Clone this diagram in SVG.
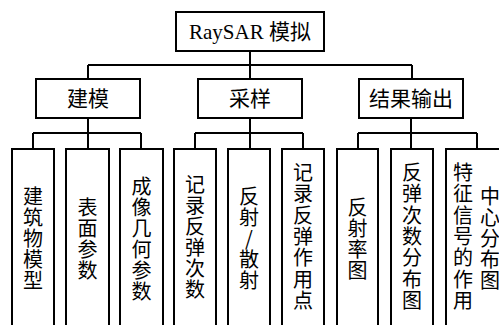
<svg xmlns="http://www.w3.org/2000/svg" width="499" height="325" viewBox="0 0 499 325">
<style>
.box{fill:#fff;stroke:#000;stroke-width:2}
.ln{fill:none;stroke:#000;stroke-width:2}
.t{font-family:"Liberation Serif","Noto Sans CJK SC",serif;font-size:21px;fill:#000;text-anchor:middle}
.v{font-family:"Noto Sans CJK SC",sans-serif;font-size:20px;fill:#000;text-anchor:middle}
</style>
<rect width="499" height="325" fill="#fff"/>
<g id="connectors">
<path class="ln" d="M250 51V79M88 65H412M88 65V79M412 65V79"/>
<path class="ln" d="M88 118V149M33 133H141M33 133V149M141 133V149"/>
<path class="ln" d="M250 118V149M195 133H303M195 133V149M303 133V149"/>
<path class="ln" d="M411 118V149M358 133H477M358 133V149M477 133V149"/>
</g>
<g id="root"><rect class="box" x="176" y="12" width="148" height="39"/><text class="t" x="250" y="39">RaySAR 模拟</text></g>
<g id="modeling"><rect class="box" x="36" y="79" width="104" height="39"/><text class="t" x="88" y="106">建模</text></g>
<g id="sampling"><rect class="box" x="198" y="79" width="104" height="39"/><text class="t" x="250" y="106">采样</text></g>
<g id="output"><rect class="box" x="359" y="79" width="104" height="39"/><text class="t" x="411" y="106">结果输出</text></g>
<g id="leaf1"><rect class="box" x="12" y="149" width="42" height="200"/>
<text class="v"><tspan x="33" y="204">建</tspan><tspan x="33" y="225">筑</tspan><tspan x="33" y="246">物</tspan><tspan x="33" y="267">模</tspan><tspan x="33" y="288">型</tspan></text></g>
<g id="leaf2"><rect class="box" x="66" y="149" width="43" height="200"/>
<text class="v"><tspan x="87.5" y="214.5">表</tspan><tspan x="87.5" y="235.5">面</tspan><tspan x="87.5" y="256.5">参</tspan><tspan x="87.5" y="277.5">数</tspan></text></g>
<g id="leaf3"><rect class="box" x="120" y="149" width="43" height="200"/>
<text class="v"><tspan x="141.5" y="193.5">成</tspan><tspan x="141.5" y="214.5">像</tspan><tspan x="141.5" y="235.5">几</tspan><tspan x="141.5" y="256.5">何</tspan><tspan x="141.5" y="277.5">参</tspan><tspan x="141.5" y="298.5">数</tspan></text></g>
<g id="leaf4"><rect class="box" x="174" y="149" width="42" height="200"/>
<text class="v"><tspan x="195" y="192">记</tspan><tspan x="195" y="213">录</tspan><tspan x="195" y="234">反</tspan><tspan x="195" y="255">弹</tspan><tspan x="195" y="276">次</tspan><tspan x="195" y="297">数</tspan></text></g>
<g id="leaf5"><rect class="box" x="228" y="149" width="42" height="200"/>
<text class="v"><tspan x="249" y="204">反</tspan><tspan x="249" y="225">射</tspan><tspan x="249" y="246">/</tspan><tspan x="249" y="267">散</tspan><tspan x="249" y="288">射</tspan></text></g>
<g id="leaf6"><rect class="box" x="282" y="149" width="42" height="200"/>
<text class="v"><tspan x="303" y="180">记</tspan><tspan x="303" y="201.3">录</tspan><tspan x="303" y="222.6">反</tspan><tspan x="303" y="243.9">弹</tspan><tspan x="303" y="265.2">作</tspan><tspan x="303" y="286.5">用</tspan><tspan x="303" y="307.8">点</tspan></text></g>
<g id="leaf7"><rect class="box" x="337" y="149" width="41" height="200"/>
<text class="v"><tspan x="357.5" y="214.5">反</tspan><tspan x="357.5" y="235.5">射</tspan><tspan x="357.5" y="256.5">率</tspan><tspan x="357.5" y="277.5">图</tspan></text></g>
<g id="leaf8"><rect class="box" x="391" y="149" width="42" height="200"/>
<text class="v"><tspan x="412" y="180">反</tspan><tspan x="412" y="201.3">弹</tspan><tspan x="412" y="222.6">次</tspan><tspan x="412" y="243.9">数</tspan><tspan x="412" y="265.2">分</tspan><tspan x="412" y="286.5">布</tspan><tspan x="412" y="307.8">图</tspan></text></g>
<g id="leaf9"><rect class="box" x="446" y="149" width="64" height="200"/>
<text class="v"><tspan x="463" y="180">特</tspan><tspan x="463" y="201.3">征</tspan><tspan x="463" y="222.6">信</tspan><tspan x="463" y="243.9">号</tspan><tspan x="463" y="265.2">的</tspan><tspan x="463" y="286.5">作</tspan><tspan x="463" y="307.8">用</tspan></text>
<text class="v"><tspan x="490" y="204">中</tspan><tspan x="490" y="225">心</tspan><tspan x="490" y="246">分</tspan><tspan x="490" y="267">布</tspan><tspan x="490" y="288">图</tspan></text></g>
</svg>
